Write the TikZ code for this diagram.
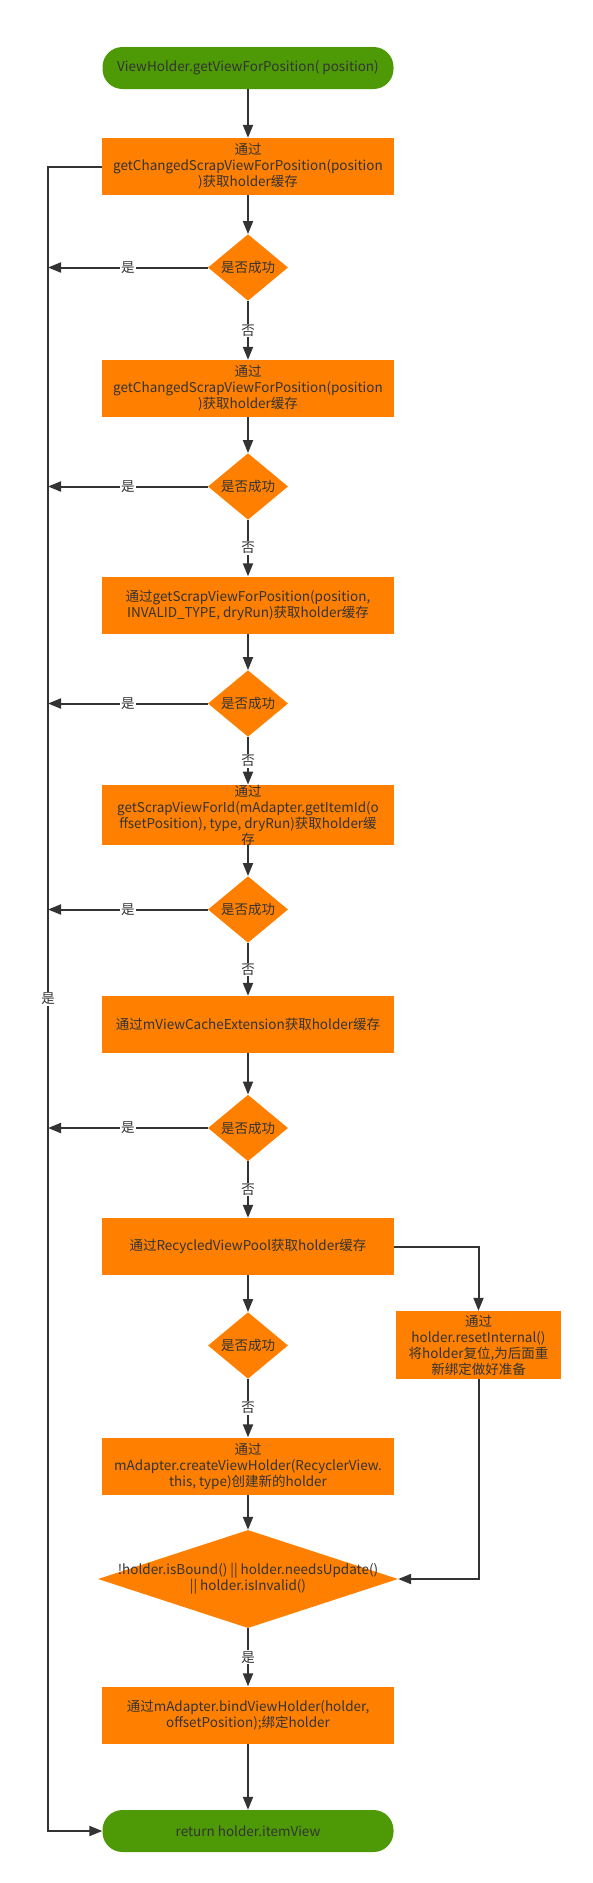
\documentclass[tikz,border=0pt]{standalone}
\usepackage{fontspec}
\setmainfont{Noto Sans CJK SC}
\usetikzlibrary{shapes.geometric,arrows.meta}
\definecolor{org}{HTML}{FF8000}
\definecolor{grn}{HTML}{4E9A06}
\definecolor{ink}{HTML}{333333}
\begin{document}
\begin{tikzpicture}[x=1pt,y=-1pt,
  every node/.style={text=ink, font=\fontsize{13.5pt}{16pt}\selectfont},
  term/.style={rectangle, rounded corners=20pt, fill=grn, minimum width=291, minimum height=42, inner sep=0},
  proc/.style={rectangle, fill=org, minimum width=292, minimum height=57, align=center, inner sep=0},
  dec/.style={diamond, fill=org, minimum width=80, minimum height=63, inner sep=0, align=center},
  arr/.style={draw=ink, line width=2pt, -{Triangle[length=13pt,width=10pt]}},
  lbl/.style={fill=white, inner sep=1pt}
]
\fill[white] (0,0) rectangle (592,1883);
\useasboundingbox (0,0) rectangle (592,1883);

\node[term] (start) at (248,68) {ViewHolder.getViewForPosition( position)};
\node[proc] (b1) at (248,166.5) {通过\\getChangedScrapViewForPosition(position\\)获取holder缓存};
\node[dec] (d1) at (248,267.5) {是否成功};
\node[proc] (b2) at (248,388.5) {通过\\getChangedScrapViewForPosition(position\\)获取holder缓存};
\node[dec] (d2) at (248,486.5) {是否成功};
\node[proc] (b3) at (248,605) {通过getScrapViewForPosition(position,\\INVALID\_TYPE, dryRun)获取holder缓存};
\node[dec] (d3) at (248,703.5) {是否成功};
\node[proc] (b4) at (248,815) {通过\\getScrapViewForId(mAdapter.getItemId(o\\ffsetPosition), type, dryRun)获取holder缓\\存};
\node[dec] (d4) at (248,909.5) {是否成功};
\node[proc] (b5) at (248,1024.5) {通过mViewCacheExtension获取holder缓存};
\node[dec] (d5) at (248,1128) {是否成功};
\node[proc] (b6) at (248,1246.5) {通过RecycledViewPool获取holder缓存};
\node[proc, minimum width=165, minimum height=68] (b7) at (478.5,1345) {通过\\holder.resetInternal()\\将holder复位,为后面重\\新绑定做好准备};
\node[dec] (d6) at (248,1345.5) {是否成功};
\node[proc] (b8) at (248,1466) {通过\\mAdapter.createViewHolder(RecyclerView.\\this, type)创建新的holder};
\node[dec, minimum width=300, minimum height=98,
  label={[align=center]center:{!holder.isBound() || holder.needsUpdate()\\|| holder.isInvalid()}}] (d7) at (248,1579) {};
\node[proc] (b9) at (248,1715) {通过mAdapter.bindViewHolder(holder,\\offsetPosition);绑定holder};
\node[term] (end) at (248,1831) {return holder.itemView};

\coordinate (j1) at (48,267.5);
\coordinate (j2) at (48,486.5);
\coordinate (j3) at (48,703.5);
\coordinate (j4) at (48,909.5);
\coordinate (j5) at (48,1128);
\coordinate (lt) at (48,166.5);
\coordinate (lb) at (48,1831);

\draw[arr] (start) -- (b1);
\draw[arr] (b1) -- (d1);
\draw[arr] (d1) -- node[lbl]{否} (b2);
\draw[arr] (d1) -- node[lbl]{是} (j1);
\draw[arr] (b2) -- (d2);
\draw[arr] (d2) -- node[lbl]{否} (b3);
\draw[arr] (d2) -- node[lbl]{是} (j2);
\draw[arr] (b3) -- (d3);
\draw[arr] (d3) -- node[lbl]{否} (b4);
\draw[arr] (d3) -- node[lbl]{是} (j3);
\draw[arr] (b4) -- (d4);
\draw[arr] (d4) -- node[lbl]{否} (b5);
\draw[arr] (d4) -- node[lbl]{是} (j4);
\draw[arr] (b5) -- (d5);
\draw[arr] (d5) -- node[lbl]{否} (b6);
\draw[arr] (d5) -- node[lbl]{是} (j5);
\draw[arr] (b6) -- (d6);
\draw[arr] (d6) -- node[lbl]{否} (b8);
\draw[arr] (b8) -- (d7);
\draw[arr] (d7) -- node[lbl]{是} (b9);
\draw[arr] (b9) -- (end);
\draw[arr] (b6.east) -| (b7.north);
\draw[arr] (b7.south) |- (d7.east);
\draw[arr] (b1.west) -- (lt) -- node[lbl]{是} (lb) -- (end.west);
\end{tikzpicture}
\end{document}
